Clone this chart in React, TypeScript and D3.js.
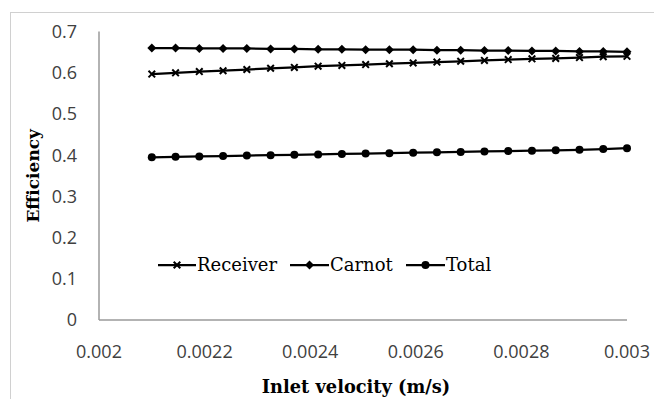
import React from "react";
import * as d3 from "d3";

const velocity = [
  0.0021, 0.002145, 0.00219, 0.002235, 0.00228, 0.002325, 0.00237, 0.002415, 0.00246, 0.002505,
  0.00255, 0.002595, 0.00264, 0.002685, 0.00273, 0.002775, 0.00282, 0.002865, 0.00291, 0.002955, 0.003,
];
const receiver = [
  0.597, 0.600, 0.603, 0.605, 0.608, 0.611, 0.613, 0.616, 0.618, 0.620,
  0.622, 0.624, 0.626, 0.628, 0.630, 0.632, 0.634, 0.635, 0.637, 0.639, 0.640,
];
const carnot = [
  0.660, 0.660, 0.659, 0.659, 0.659, 0.658, 0.658, 0.657, 0.657, 0.656,
  0.656, 0.656, 0.655, 0.655, 0.654, 0.654, 0.653, 0.653, 0.652, 0.652, 0.651,
];
const total = [
  0.395, 0.396, 0.397, 0.398, 0.399, 0.400, 0.401, 0.402, 0.403, 0.404,
  0.405, 0.406, 0.407, 0.408, 0.409, 0.410, 0.411, 0.412, 0.413, 0.415, 0.417,
];
const xTicks = [0.002, 0.0022, 0.0024, 0.0026, 0.0028, 0.003];
const xTickLabels = ["0.002", "0.0022", "0.0024", "0.0026", "0.0028", "0.003"];
const yTicks = [0, 0.1, 0.2, 0.3, 0.4, 0.5, 0.6, 0.7];
const yTickLabels = ["0", "0.1", "0.2", "0.3", "0.4", "0.5", "0.6", "0.7"];
const seriesNames = ["Receiver", "Carnot", "Total"];

const W = 654;
const H = 399;
const plot = { left: 99, right: 627, top: 31.6, bottom: 320 };

type MarkerKind = "x" | "diamond" | "circle";

function Marker({ kind, x, y }: { kind: MarkerKind; x: number; y: number }) {
  if (kind === "diamond") {
    const s = 4.5;
    return (
      <path
        d={`M${x},${y - s}L${x + s},${y}L${x},${y + s}L${x - s},${y}Z`}
        fill="#000"
      />
    );
  }
  if (kind === "circle") {
    return <circle cx={x} cy={y} r={4} fill="#000" />;
  }
  const s = 3.3;
  return (
    <path
      d={`M${x - s},${y - s}L${x + s},${y + s}M${x - s},${y + s}L${x + s},${y - s}`}
      stroke="#000"
      strokeWidth={2}
    />
  );
}

export default function App() {
  const x = d3.scaleLinear().domain([0.002, 0.003]).range([plot.left, plot.right]);
  const y = d3.scaleLinear().domain([0, 0.7]).range([plot.bottom, plot.top]);
  const line = d3
    .line<number>()
    .x((_, i) => x(velocity[i]))
    .y((d) => y(d));

  const series: { name: string; values: number[]; kind: MarkerKind }[] = [
    { name: seriesNames[0], values: receiver, kind: "x" },
    { name: seriesNames[1], values: carnot, kind: "diamond" },
    { name: seriesNames[2], values: total, kind: "circle" },
  ];

  const legendItems = [
    { x0: 158, x1: 196, tx: 197 },
    { x0: 290, x1: 329, tx: 330 },
    { x0: 406, x1: 445, tx: 446 },
  ];
  const legendY = 265;

  return (
    <svg
      width={W}
      height={H}
      style={{ position: "absolute", left: 0, top: 0, background: "#fff" }}
    >
      <rect x={10.5} y={12.5} width={W + 10} height={H + 10} fill="#fff" stroke="#d0d0d0" strokeWidth={1} />
      {/* axes */}
      <line x1={plot.left} x2={plot.left} y1={plot.top} y2={plot.bottom} stroke="#9a9a9a" strokeWidth={1.5} />
      <line x1={plot.left} x2={plot.right} y1={plot.bottom} y2={plot.bottom} stroke="#9a9a9a" strokeWidth={1.5} />
      {/* y tick labels */}
      {yTicks.map((t, i) => (
        <text
          key={"y" + i}
          x={plot.left - 22}
          y={y(t)}
          dy="0.35em"
          textAnchor="end"
          fontFamily="'Open Sans', sans-serif"
          fontSize={18}
          fill="#404040"
        >
          {yTickLabels[i]}
        </text>
      ))}
      {/* x tick labels */}
      {xTicks.map((t, i) => (
        <text
          key={"x" + i}
          x={x(t)}
          y={plot.bottom + 38}
          textAnchor="middle"
          fontFamily="'Open Sans', sans-serif"
          fontSize={18}
          fill="#404040"
        >
          {xTickLabels[i]}
        </text>
      ))}
      {/* series */}
      {series.map((s) => (
        <g key={s.name}>
          <path d={line(s.values) || ""} fill="none" stroke="#000" strokeWidth={2.25} />
          {s.values.map((v, i) => (
            <Marker key={i} kind={s.kind} x={x(velocity[i])} y={y(v)} />
          ))}
        </g>
      ))}
      {/* legend */}
      {series.map((s, i) => {
        const it = legendItems[i];
        return (
          <g key={"lg" + s.name}>
            <line x1={it.x0} x2={it.x1} y1={legendY} y2={legendY} stroke="#000" strokeWidth={2.25} />
            <Marker kind={s.kind} x={(it.x0 + it.x1) / 2} y={legendY} />
            <text
              x={it.tx}
              y={legendY}
              dy="0.35em"
              fontFamily="'DejaVu Serif', serif"
              fontSize={18}
              fill="#000"
            >
              {s.name}
            </text>
          </g>
        );
      })}
      {/* axis titles */}
      <text
        x={356}
        y={393}
        textAnchor="middle"
        fontFamily="'DejaVu Serif', serif"
        fontWeight="bold"
        fontSize={17.8}
        fill="#000"
      >
        Inlet velocity (m/s)
      </text>
      <text
        transform={`translate(39,${(plot.top + plot.bottom) / 2}) rotate(-90)`}
        textAnchor="middle"
        fontFamily="'DejaVu Serif', serif"
        fontWeight="bold"
        fontSize={17}
        fill="#000"
      >
        Efficiency
      </text>
    </svg>
  );
}
